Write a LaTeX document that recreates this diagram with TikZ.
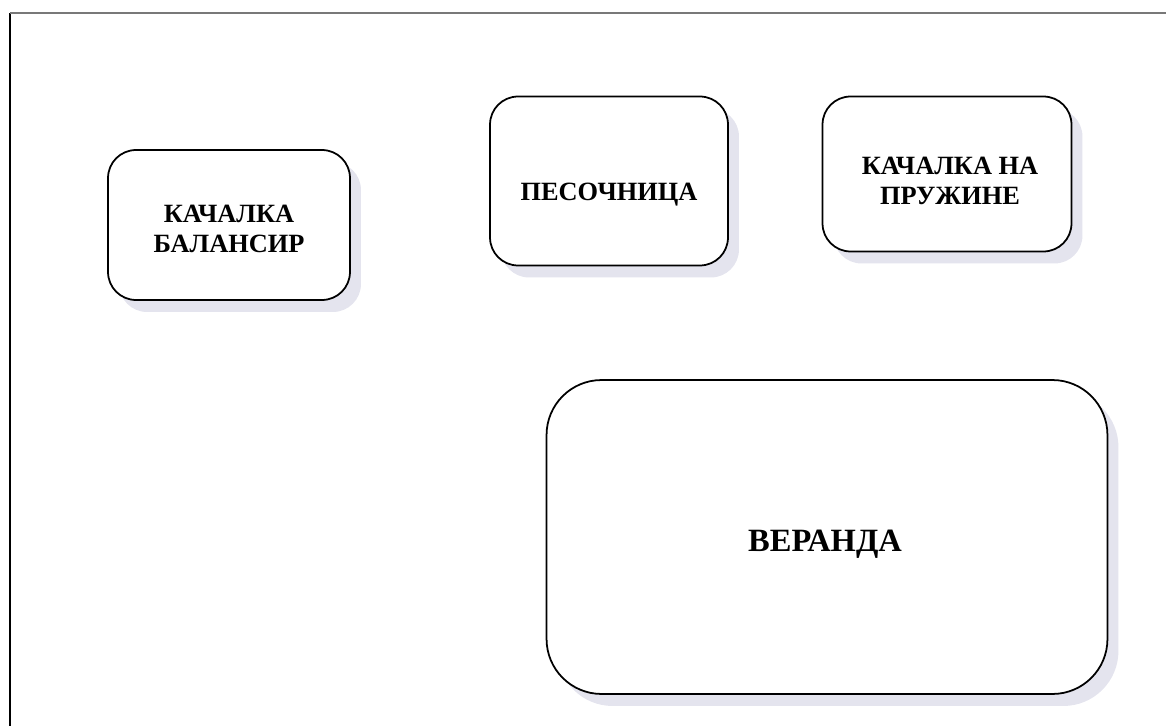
\documentclass[tikz,border=0pt]{standalone}
\usepackage{fontspec}
\setmainfont{Liberation Serif}
\usetikzlibrary{shadows}
\definecolor{shadowgray}{RGB}{228, 228, 238}
\definecolor{framegray}{RGB}{120, 120, 120}

\begin{document}
\begin{tikzpicture}[x=0.02cm, y=-0.02cm,
  playbox/.style={draw, line width=1pt, rounded corners=0.56cm, fill=white,
    drop shadow={shadow xshift=0.22cm, shadow yshift=-0.24cm, fill=shadowgray, opacity=1}},
  playtext/.style={align=center, font=\fontsize{15}{17}\selectfont\bfseries}]
  \useasboundingbox (0, 0) rectangle (1166, 726);

  % Frame
  \coordinate (fbl) at (10, 726);
  \coordinate (ftl) at (10, 13);
  \coordinate (ftr) at (1166, 13);
  \draw[line width=1.3pt] (fbl) -- (ftl);
  \draw[line width=1.3pt, framegray] (ftl) -- (ftr);

  % Balance seesaw
  \node[playbox, minimum width=4.84cm, minimum height=3cm] (seesaw) at (229, 225) {};
  \node[playtext] (seesawtext) at (229, 229) {КАЧАЛКА\\БАЛАНСИР};

  % Sandbox
  \node[playbox, minimum width=4.76cm, minimum height=3.38cm] (sandbox) at (609, 181) {};
  \node[playtext] (sandboxtext) at (609, 195) {ПЕСОЧНИЦА};

  % Spring rocker
  \node[playbox, minimum width=4.98cm, minimum height=3.1cm] (spring) at (947, 174) {};
  \node[playtext] (springtext) at (950, 181) {КАЧАЛКА НА\\ПРУЖИНЕ};

  % Veranda
  \node[playbox, rounded corners=1.1cm, minimum width=11.22cm, minimum height=6.28cm] (veranda) at (827, 537) {};
  \node[playtext, font=\fontsize{18.5}{22}\selectfont\bfseries] (verandatext) at (825, 544) {ВЕРАНДА};
\end{tikzpicture}
\end{document}
